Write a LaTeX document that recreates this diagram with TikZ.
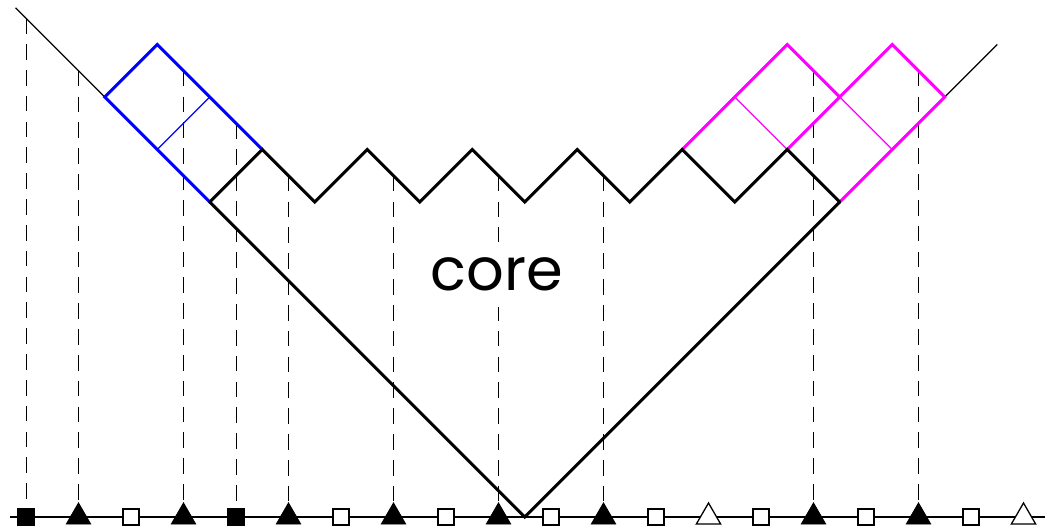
\documentclass[tikz,border=0pt]{standalone}
\usepackage{fontspec}
\setmainfont{Poppins}
\usetikzlibrary{shapes.geometric}
\definecolor{myblue}{RGB}{0,0,255}
\definecolor{mymag}{RGB}{255,0,255}
\tikzset{
  thickline/.style={line width=1.6pt, line join=miter, line cap=round},
  thinline/.style={line width=0.6pt},
  guide/.style={line width=0.5pt, dash pattern=on 8.5pt off 5.5pt},
  fsq/.style={rectangle, draw, fill=black, line width=0.5pt, minimum size=9.4pt, inner sep=0pt},
  esq/.style={rectangle, draw, fill=white, line width=0.7pt, minimum size=8.6pt, inner sep=0pt},
  ftri/.style={regular polygon, regular polygon sides=3, draw, fill=black, line width=0.5pt, minimum size=15.2pt, inner sep=0pt},
  etri/.style={regular polygon, regular polygon sides=3, draw, fill=white, line width=0.7pt, minimum size=15.2pt, inner sep=0pt},
}
\begin{document}
\begin{tikzpicture}[x=1cm,y=1cm]
\useasboundingbox (-0.4952,-0.2476) rectangle (19.562,9.848);
% baseline
\coordinate (bl) at (-0.3,0);
\coordinate (br) at (19.4,0);
\draw[line width=0.7pt] (bl) -- (br);
% top points of guides
\coordinate (t0) at (0,9.5);
\coordinate (t1) at (1,8.5);
\coordinate (t3) at (3,8.5);
\coordinate (t4) at (4,7.5);
\coordinate (t5) at (5,6.5);
\coordinate (t7) at (7,6.5);
\coordinate (t9) at (9,6.5);
\coordinate (t11) at (11,6.5);
\coordinate (t15) at (15,8.5);
\coordinate (t17) at (17,8.5);
% markers
\node[fsq]  (m0)  at (0,0) {};
\node[ftri] (m1)  at (1,0) {};
\node[esq]  (m2)  at (2,0) {};
\node[ftri] (m3)  at (3,0) {};
\node[fsq]  (m4)  at (4,0) {};
\node[ftri] (m5)  at (5,0) {};
\node[esq]  (m6)  at (6,0) {};
\node[ftri] (m7)  at (7,0) {};
\node[esq]  (m8)  at (8,0) {};
\node[ftri] (m9)  at (9,0) {};
\node[esq]  (m10) at (10,0) {};
\node[ftri] (m11) at (11,0) {};
\node[esq]  (m12) at (12,0) {};
\node[etri] (m13) at (13,0) {};
\node[esq]  (m14) at (14,0) {};
\node[ftri] (m15) at (15,0) {};
\node[esq]  (m16) at (16,0) {};
\node[ftri] (m17) at (17,0) {};
\node[esq]  (m18) at (18,0) {};
\node[etri] (m19) at (19,0) {};
% guides
\foreach \i in {0,1,3,4,5,7,9,11,15,17}
  \draw[guide] (t\i) -- (m\i.north);
% corner points
\coordinate (v) at (9.5,0);
\coordinate (L) at (3.5,6);
\coordinate (R) at (15.5,6);
\coordinate (lt) at (-0.2,9.7);
\coordinate (rt) at (18.5,9);
\coordinate (b1) at (1.5,8);
\coordinate (b2) at (2.5,9);
\coordinate (b3) at (4.5,7);
\coordinate (b4) at (2.5,7);
\coordinate (b5) at (3.5,8);
\coordinate (p1) at (12.5,7);
\coordinate (p2) at (14.5,9);
\coordinate (p3) at (15.5,8);
\coordinate (p4) at (14.5,7);
\coordinate (p5) at (16.5,9);
\coordinate (p6) at (17.5,8);
\coordinate (p7) at (13.5,8);
\coordinate (p8) at (16.5,7);
% thin continuation lines
\draw[thinline] (lt) -- (b1);
\draw[thinline] (p6) -- (rt);
% blue
\draw[thinline, myblue] (b4) -- (b5);
\draw[thickline, myblue] (L) -- (b1) -- (b2) -- (b3);
% magenta
\draw[thinline, mymag] (p7) -- (p4);
\draw[thinline, mymag] (p3) -- (p8);
\draw[thickline, mymag] (p1) -- (p2) -- (p3);
\draw[thickline, mymag] (p4) -- (p5) -- (p6) -- (R);
% core
\draw[thickline] (L) -- (v) -- (R);
\draw[thickline] (L) -- (4.5,7) -- (5.5,6) -- (6.5,7) -- (7.5,6) -- (8.5,7) -- (9.5,6)
  -- (10.5,7) -- (11.5,6) -- (12.5,7) -- (13.5,6) -- (14.5,7) -- (R);
% label
\node[fill=white, inner sep=0pt, minimum height=35pt, font=\fontsize{32}{38}\selectfont] (core) at (8.97,4.62) {core};
\end{tikzpicture}
\end{document}
